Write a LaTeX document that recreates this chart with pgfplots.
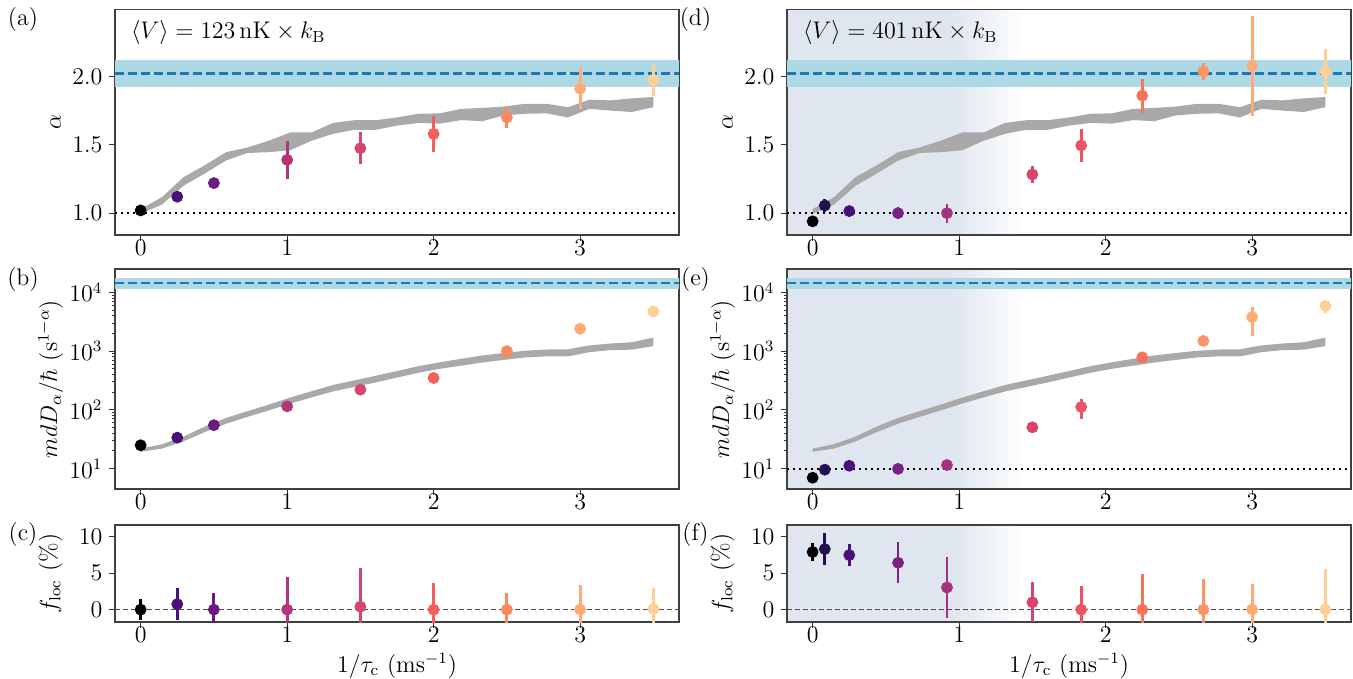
\documentclass[border=0pt]{standalone}
\usepackage{pgfplots}
\pgfplotsset{compat=1.18}

\definecolor{ca0}{HTML}{000004}
\definecolor{ca1}{HTML}{4A1079}
\definecolor{ca2}{HTML}{6A1C81}
\definecolor{ca3}{HTML}{B1357B}
\definecolor{ca4}{HTML}{D8456C}
\definecolor{ca5}{HTML}{F1605D}
\definecolor{ca6}{HTML}{FA8A62}
\definecolor{ca7}{HTML}{FEAB76}
\definecolor{ca8}{HTML}{FED093}
\definecolor{cd1}{HTML}{221150}
\definecolor{cd3}{HTML}{7B2382}
\definecolor{cd4}{HTML}{A8317E}
\definecolor{cd6}{HTML}{E95562}
\definecolor{cd7}{HTML}{F7735C}
\definecolor{cd8}{HTML}{FC9365}
\definecolor{bandblue}{HTML}{ADD8E6}
\definecolor{lineblue}{HTML}{1F77B4}
\definecolor{bandgray}{HTML}{A9A9A9}
\definecolor{bgblue}{HTML}{DFE6EF}

\pgfplotsset{
  panel/.style={scale only axis, width=282pt, xmin=-0.175, xmax=3.675,
    xtick={0,1,2,3}, tick align=outside, xtick pos=bottom, ytick pos=left,
    major tick length=2.8pt, minor tick length=1.6pt,
    every tick/.style={black!80, line width=0.5pt},
    axis line style={black!75, line width=0.6pt},
    tick label style={font=\large}, label style={font=\large},
    xticklabel style={inner sep=0pt, yshift=0.5pt},
    ylabel style={at={(axis description cs:-0.105,0.5)}, anchor=center},
    anchor=north west},
  dot/.style={only marks, mark=*, mark size=2.75pt, color=#1,
    mark options={solid, fill=#1, draw=#1},
    error bars/y dir=both, error bars/y explicit, error bars/error mark=none,
    error bars/error bar style={line width=1.4pt, color=#1, solid}},
  refline/.style={lineblue, line width=1.4pt, dash pattern=on 4.5pt off 2pt},
  dotline/.style={black, line width=1.1pt, dash pattern=on 1.1pt off 1.9pt},
  zeroline/.style={black!70, line width=0.75pt, dash pattern=on 2.5pt off 1.5pt},
}

\begin{document}
\begin{tikzpicture}
\useasboundingbox (0,0) rectangle (676.5pt,-339.5pt);

% shaded background of the right column (drawn before the axes)
\foreach \ya/\yb in {-4.75/-117.5, -134.5/-244.5, -262.5/-311} {
  \fill[bgblue] (393.5pt,\ya pt) rectangle (475.9pt,\yb pt);
  \foreach \i in {0,...,39} {
    \pgfmathsetmacro\p{100-2.5*\i-1.25}
    \pgfmathsetmacro\xa{475.8+0.9165*\i}
    \pgfmathsetmacro\xb{475.8+0.9165*(\i+1)+0.15}
    \fill[bgblue!\p!white] (\xa pt,\ya pt) rectangle (\xb pt,\yb pt);
  }
}

% ---------- (a) ----------
\begin{axis}[panel, at={(57.5pt,-4.75pt)}, height=112.75pt,
  ymin=0.84, ymax=2.49, ytick={1.0,1.5,2.0},
  yticklabel style={/pgf/number format/.cd, fixed, fixed zerofill, precision=1},
  ylabel={$\alpha$}]
\addplot[fill=bandblue, draw=none] coordinates {(-0.175,1.92) (3.675,1.92) (3.675,2.12) (-0.175,2.12)};
\addplot[refline] coordinates {(-0.175,2.02) (3.675,2.02)};
\addplot[fill=bandgray, draw=none] coordinates {
  (0,1.03) (0.146,1.117) (0.292,1.263) (0.4375,1.35) (0.583,1.446) (0.729,1.48)
  (0.875,1.53) (1.021,1.59) (1.167,1.59) (1.3125,1.66) (1.458,1.68) (1.604,1.68)
  (1.75,1.70) (1.896,1.727) (2.042,1.73) (2.1875,1.763) (2.333,1.77) (2.479,1.78)
  (2.625,1.80) (2.771,1.80) (2.917,1.775) (3.0625,1.83) (3.208,1.825) (3.354,1.84) (3.5,1.85)
  (3.5,1.775) (3.354,1.74) (3.208,1.75) (3.0625,1.763) (2.917,1.70) (2.771,1.73)
  (2.625,1.727) (2.479,1.715) (2.333,1.673) (2.1875,1.68) (2.042,1.655) (1.896,1.66)
  (1.75,1.64) (1.604,1.61) (1.458,1.61) (1.3125,1.58) (1.167,1.53) (1.021,1.46)
  (0.875,1.446) (0.729,1.44) (0.583,1.385) (0.4375,1.29) (0.292,1.20) (0.146,1.063) (0,0.995)};
\addplot[dotline] coordinates {(-0.175,1) (3.675,1)};
\addplot[dot=ca0] coordinates {(0,1.02) +- (0,0.012)};
\addplot[dot=ca1] coordinates {(0.25,1.12) +- (0,0.02)};
\addplot[dot=ca2] coordinates {(0.5,1.22) +- (0,0.025)};
\addplot[dot=ca3] coordinates {(1,1.39) +- (0,0.14)};
\addplot[dot=ca4] coordinates {(1.5,1.475) +- (0,0.115)};
\addplot[dot=ca5] coordinates {(2,1.58) +- (0,0.13)};
\addplot[dot=ca6] coordinates {(2.5,1.70) +- (0,0.075)};
\addplot[dot=ca7] coordinates {(3,1.91) +- (0,0.15)};
\addplot[dot=ca8] coordinates {(3.5,1.975) +- (0,0.115)};
\node[anchor=west, font=\large] at (rel axis cs:0.016,0.896) {$\langle V\rangle = 123\,\mathrm{nK}\times k_\mathrm{B}$};
\end{axis}

% ---------- (b) ----------
\begin{axis}[panel, at={(57.5pt,-134.5pt)}, height=110pt, ymode=log,
  ymin=4.5, ymax=25000, ytick={10,100,1000,10000},
  ylabel={$mdD_\alpha/\hbar\ (\mathrm{s}^{1-\alpha})$},
  ylabel style={at={(axis description cs:-0.114,0.5)}}]
\addplot[fill=bandblue, draw=none] coordinates {(-0.175,11400) (3.675,11400) (3.675,17500) (-0.175,17500)};
\addplot[refline] coordinates {(-0.175,14400) (3.675,14400)};
\addplot[fill=bandgray, draw=none] coordinates {
  (0,22) (0.146,26) (0.292,35) (0.4375,52) (0.583,73) (0.729,95) (0.875,123)
  (1.021,162) (1.167,208) (1.3125,265) (1.458,318) (1.604,380) (1.75,458) (1.896,555)
  (2.042,645) (2.1875,740) (2.333,845) (2.479,930) (2.625,1015) (2.771,1065) (2.917,1075)
  (3.0625,1250) (3.208,1350) (3.354,1420) (3.5,1700)
  (3.5,1220) (3.354,1060) (3.208,1040) (3.0625,960) (2.917,815) (2.771,815) (2.625,780)
  (2.479,710) (2.333,640) (2.1875,565) (2.042,500) (1.896,428) (1.75,355) (1.604,293)
  (1.458,245) (1.3125,206) (1.167,163) (1.021,128) (0.875,98) (0.729,76) (0.583,58)
  (0.4375,42) (0.292,29) (0.146,22) (0,19.3)};
\addplot[dot=ca0] coordinates {(0,25) +- (0,1.5)};
\addplot[dot=ca1] coordinates {(0.25,33.7) +- (0,2)};
\addplot[dot=ca2] coordinates {(0.5,55) +- (0,4)};
\addplot[dot=ca3] coordinates {(1,115) +- (0,18)};
\addplot[dot=ca4] coordinates {(1.5,221) +- (0,15)};
\addplot[dot=ca5] coordinates {(2,349) +- (0,25)};
\addplot[dot=ca6] coordinates {(2.5,1000) +- (0,60)};
\addplot[dot=ca7] coordinates {(3,2410) +- (0,150)};
\addplot[dot=ca8] coordinates {(3.5,4750) +- (0,300)};
\end{axis}

% ---------- (c) ----------
\begin{axis}[panel, at={(57.5pt,-262.5pt)}, height=48.5pt,
  ymin=-1.7, ymax=11.6, ytick={0,5,10},
  ylabel={$f_\mathrm{loc}\ (\%)$},
  ylabel style={at={(axis description cs:-0.114,0.5)}},
  xlabel={$1/\tau_\mathrm{c}\ (\mathrm{ms}^{-1})$},
  xlabel style={at={(axis description cs:0.5,-0.45)}, anchor=center}]
\addplot[zeroline] coordinates {(-0.175,0) (3.675,0)};
\addplot[dot=ca0] coordinates {(0,0) +- (0,1.4)};
\addplot[dot=ca1] coordinates {(0.25,0.75) +- (0,2.2)};
\addplot[dot=ca2] coordinates {(0.5,0) +- (0,2.3)};
\addplot[dot=ca3] coordinates {(1,0) +- (0,4.5)};
\addplot[dot=ca4] coordinates {(1.5,0.4) +- (0,5.3)};
\addplot[dot=ca5] coordinates {(2,0) +- (0,3.7)};
\addplot[dot=ca6] coordinates {(2.5,0) +- (0,2.3)};
\addplot[dot=ca7] coordinates {(3,0) +- (0,3.4)};
\addplot[dot=ca8] coordinates {(3.5,0.1) +- (0,2.9)};
\end{axis}

% ---------- (d) ----------
\begin{axis}[panel, at={(393.5pt,-4.75pt)}, height=112.75pt,
  ymin=0.84, ymax=2.49, ytick={1.0,1.5,2.0},
  yticklabel style={/pgf/number format/.cd, fixed, fixed zerofill, precision=1},
  ylabel={$\alpha$}]
\addplot[fill=bandblue, draw=none] coordinates {(-0.175,1.92) (3.675,1.92) (3.675,2.12) (-0.175,2.12)};
\addplot[refline] coordinates {(-0.175,2.02) (3.675,2.02)};
\addplot[fill=bandgray, draw=none] coordinates {
  (0,1.03) (0.146,1.117) (0.292,1.263) (0.4375,1.35) (0.583,1.446) (0.729,1.48)
  (0.875,1.53) (1.021,1.59) (1.167,1.59) (1.3125,1.66) (1.458,1.68) (1.604,1.68)
  (1.75,1.70) (1.896,1.727) (2.042,1.73) (2.1875,1.763) (2.333,1.77) (2.479,1.78)
  (2.625,1.80) (2.771,1.80) (2.917,1.775) (3.0625,1.83) (3.208,1.825) (3.354,1.84) (3.5,1.85)
  (3.5,1.775) (3.354,1.74) (3.208,1.75) (3.0625,1.763) (2.917,1.70) (2.771,1.73)
  (2.625,1.727) (2.479,1.715) (2.333,1.673) (2.1875,1.68) (2.042,1.655) (1.896,1.66)
  (1.75,1.64) (1.604,1.61) (1.458,1.61) (1.3125,1.58) (1.167,1.53) (1.021,1.46)
  (0.875,1.446) (0.729,1.44) (0.583,1.385) (0.4375,1.29) (0.292,1.20) (0.146,1.063) (0,0.995)};
\addplot[dotline] coordinates {(-0.175,1) (3.675,1)};
\addplot[dot=ca0] coordinates {(0,0.94) +- (0,0.012)};
\addplot[dot=cd1] coordinates {(0.083,1.056) +- (0,0.045)};
\addplot[dot=ca1] coordinates {(0.25,1.015) +- (0,0.025)};
\addplot[dot=cd3] coordinates {(0.583,1.0) +- (0,0.045)};
\addplot[dot=cd4] coordinates {(0.917,1.0) +- (0,0.07)};
\addplot[dot=ca4] coordinates {(1.5,1.283) +- (0,0.065)};
\addplot[dot=cd6] coordinates {(1.833,1.495) +- (0,0.12)};
\addplot[dot=cd7] coordinates {(2.25,1.86) +- (0,0.125)};
\addplot[dot=cd8] coordinates {(2.667,2.037) +- (0,0.065)};
\addplot[dot=ca7] coordinates {(3,2.078) +- (0,0.365)};
\addplot[dot=ca8] coordinates {(3.5,2.037) +- (0,0.165)};
\node[anchor=west, font=\large] at (rel axis cs:0.016,0.896) {$\langle V\rangle = 401\,\mathrm{nK}\times k_\mathrm{B}$};
\end{axis}

% ---------- (e) ----------
\begin{axis}[panel, at={(393.5pt,-134.5pt)}, height=110pt, ymode=log,
  ymin=4.5, ymax=25000, ytick={10,100,1000,10000},
  ylabel={$mdD_\alpha/\hbar\ (\mathrm{s}^{1-\alpha})$},
  ylabel style={at={(axis description cs:-0.114,0.5)}}]
\addplot[fill=bandblue, draw=none] coordinates {(-0.175,11400) (3.675,11400) (3.675,17500) (-0.175,17500)};
\addplot[refline] coordinates {(-0.175,14400) (3.675,14400)};
\addplot[fill=bandgray, draw=none] coordinates {
  (0,22) (0.146,26) (0.292,35) (0.4375,52) (0.583,73) (0.729,95) (0.875,123)
  (1.021,162) (1.167,208) (1.3125,265) (1.458,318) (1.604,380) (1.75,458) (1.896,555)
  (2.042,645) (2.1875,740) (2.333,845) (2.479,930) (2.625,1015) (2.771,1065) (2.917,1075)
  (3.0625,1250) (3.208,1350) (3.354,1420) (3.5,1700)
  (3.5,1220) (3.354,1060) (3.208,1040) (3.0625,960) (2.917,815) (2.771,815) (2.625,780)
  (2.479,710) (2.333,640) (2.1875,565) (2.042,500) (1.896,428) (1.75,355) (1.604,293)
  (1.458,245) (1.3125,206) (1.167,163) (1.021,128) (0.875,98) (0.729,76) (0.583,58)
  (0.4375,42) (0.292,29) (0.146,22) (0,19.3)};
\addplot[dotline] coordinates {(-0.175,10) (3.675,10)};
\addplot[dot=ca0] coordinates {(0,7.0) +- (0,0.4)};
\addplot[dot=cd1] coordinates {(0.083,9.6) +- (0,0.6)};
\addplot[dot=ca1] coordinates {(0.25,11.2) +- (0,0.8)};
\addplot[dot=cd3] coordinates {(0.583,9.9) +- (0,0.6)};
\addplot[dot=cd4] coordinates {(0.917,11.5) +- (0,1)};
\addplot[dot=ca4] coordinates {(1.5,50.5) +- (0,3)};
\addplot[dot=cd6] coordinates {(1.833,112) += (0,41) -= (0,42)};
\addplot[dot=cd7] coordinates {(2.25,785) += (0,150) -= (0,140)};
\addplot[dot=cd8] coordinates {(2.667,1490) +- (0,100)};
\addplot[dot=ca7] coordinates {(3,3800) += (0,1800) -= (0,2000)};
\addplot[dot=ca8] coordinates {(3.5,5900) += (0,1600) -= (0,1400)};
\end{axis}

% ---------- (f) ----------
\begin{axis}[panel, at={(393.5pt,-262.5pt)}, height=48.5pt,
  ymin=-1.7, ymax=11.6, ytick={0,5,10},
  ylabel={$f_\mathrm{loc}\ (\%)$},
  ylabel style={at={(axis description cs:-0.114,0.5)}},
  xlabel={$1/\tau_\mathrm{c}\ (\mathrm{ms}^{-1})$},
  xlabel style={at={(axis description cs:0.5,-0.45)}, anchor=center}]
\addplot[zeroline] coordinates {(-0.175,0) (3.675,0)};
\addplot[dot=ca0] coordinates {(0,7.9) +- (0,1.2)};
\addplot[dot=cd1] coordinates {(0.083,8.3) +- (0,2.15)};
\addplot[dot=ca1] coordinates {(0.25,7.48) +- (0,1.5)};
\addplot[dot=cd3] coordinates {(0.583,6.42) +- (0,2.8)};
\addplot[dot=cd4] coordinates {(0.917,3.03) +- (0,4.2)};
\addplot[dot=ca4] coordinates {(1.5,1.0) +- (0,2.75)};
\addplot[dot=cd6] coordinates {(1.833,0) +- (0,3.3)};
\addplot[dot=cd7] coordinates {(2.25,0) +- (0,4.9)};
\addplot[dot=cd8] coordinates {(2.667,0) +- (0,4.2)};
\addplot[dot=ca7] coordinates {(3,0) +- (0,3.5)};
\addplot[dot=ca8] coordinates {(3.5,0) +- (0,5.5)};
\end{axis}

% panel letters
\node[font=\large] at (11.5pt,-10pt) {(a)};
\node[font=\large] at (11.5pt,-140pt) {(b)};
\node[font=\large] at (11.5pt,-267.5pt) {(c)};
\node[font=\large] at (347.75pt,-10pt) {(d)};
\node[font=\large] at (347.75pt,-140pt) {(e)};
\node[font=\large] at (347.75pt,-267.5pt) {(f)};
\end{tikzpicture}
\end{document}
